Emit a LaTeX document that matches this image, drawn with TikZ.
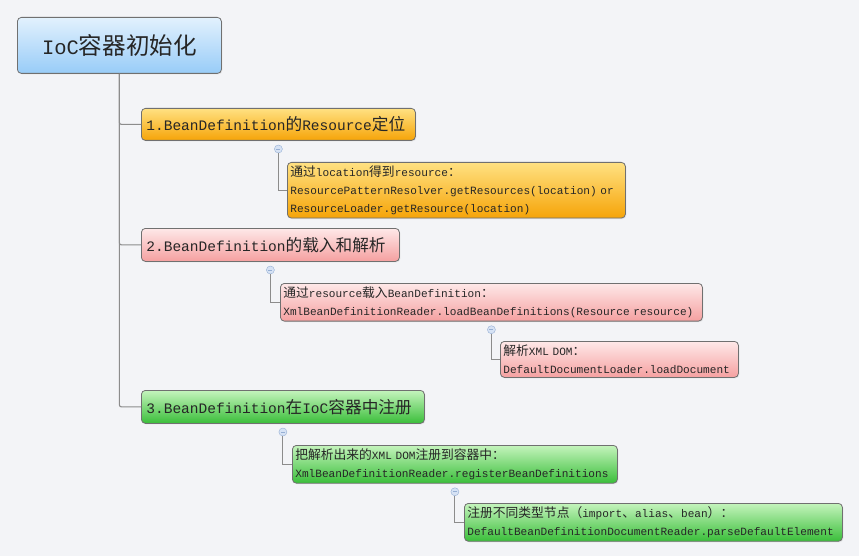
\documentclass[tikz,border=0pt]{standalone}
\usepackage{fontspec}
\setmainfont{Liberation Mono}
\newfontfamily\cjk[Scale=1.15]{Noto Sans CJK SC}
\usepackage{tikz}
\usetikzlibrary{positioning,shadows}
\definecolor{bgcol}{RGB}{243,244,247}
\definecolor{linecol}{RGB}{140,140,140}
\definecolor{edgecol}{RGB}{112,112,112}
\definecolor{bluetop}{RGB}{226,241,253}
\definecolor{bluebot}{RGB}{152,204,248}
\definecolor{orangetop}{RGB}{255,225,130}
\definecolor{orangebot}{RGB}{246,164,8}
\definecolor{pinktop}{RGB}{254,232,232}
\definecolor{pinkbot}{RGB}{245,160,160}
\definecolor{greentop}{RGB}{196,244,188}
\definecolor{greenbot}{RGB}{58,190,58}
\definecolor{togglefill}{RGB}{214,226,244}
\definecolor{toggleedge}{RGB}{150,175,212}

\begin{document}
\begin{tikzpicture}[x=1pt,y=-1pt]
    \tikzstyle{box}=[draw=edgecol,line width=0.8pt,rounded corners=4pt,anchor=north west,
        drop shadow={opacity=0.15,shadow xshift=1pt,shadow yshift=-1pt},text=black!85]
    \tikzstyle{topic}=[box,inner xsep=5pt,align=left,font=\fontsize{14.5}{18}\selectfont]
    \tikzstyle{note}=[box,inner xsep=3pt,align=left,font=\fontsize{11.1}{18}\selectfont]
    \tikzstyle{orange box}=[top color=orangetop,bottom color=orangebot]
    \tikzstyle{pink box}=[top color=pinktop,bottom color=pinkbot]
    \tikzstyle{green box}=[top color=greentop,bottom color=greenbot]
    \tikzstyle{toggle}=[circle,draw=toggleedge,fill=togglefill,minimum size=8pt,inner sep=0pt,
        path picture={\draw[toggleedge,line width=0.6pt]([xshift=2pt]path picture bounding box.west)
        -- ([xshift=-2pt]path picture bounding box.east);}]
    \tikzstyle{branch}=[draw=linecol,line width=1.1pt]

    \fill[bgcol] (0,0) rectangle (859,556);
    \useasboundingbox (0,0) rectangle (859,556);

    \node(root)[box,top color=bluetop,bottom color=bluebot,align=center,
        minimum width=204pt,minimum height=56pt,font=\fontsize{20.5}{24}\selectfont]
        at (17,17) {IoC{\cjk 容器初始化}};

    \node(b1)[topic,orange box,text width=264pt,minimum height=32pt] at (141,108)
        {1.BeanDefinition{\cjk 的}Resource{\cjk 定位}};
    \node(b1a)[note,orange box,text width=332pt,minimum height=53pt] at (287,162)
        {{\cjk 通过}location{\cjk 得到}resource{\cjk ：}\\
         ResourcePatternResolver.getResources(location) or\\
         ResourceLoader.getResource(location)};

    \node(b2)[topic,pink box,text width=248pt,minimum height=33pt] at (141,228)
        {2.BeanDefinition{\cjk 的载入和解析}};
    \node(b2a)[note,pink box,text width=416pt,minimum height=36pt] at (280,283)
        {{\cjk 通过}resource{\cjk 载入}BeanDefinition{\cjk ：}\\
         XmlBeanDefinitionReader.loadBeanDefinitions(Resource resource)};
    \node(b2b)[note,pink box,text width=232pt,minimum height=36pt] at (500,341)
        {{\cjk 解析}XML DOM{\cjk ：}\\
         DefaultDocumentLoader.loadDocument};

    \node(b3)[topic,green box,text width=273pt,minimum height=33pt] at (141,390)
        {3.BeanDefinition{\cjk 在}IoC{\cjk 容器中注册}};
    \node(b3a)[note,green box,text width=319pt,minimum height=36pt] at (292,445)
        {{\cjk 把解析出来的}XML DOM{\cjk 注册到容器中：}\\
         XmlBeanDefinitionReader.registerBeanDefinitions};
    \node(b3b)[note,green box,text width=372pt,minimum height=36pt] at (464,503)
        {{\cjk 注册不同类型节点（}import{\cjk 、}alias{\cjk 、}bean{\cjk ）：}\\
         DefaultBeanDefinitionDocumentReader.parseDefaultElement};

    \node(t1)[toggle,below=4pt of b1]{};
    \node(t2)[toggle,below=4pt of b2]{};
    \node(t2a)[toggle,below=4pt of b2a]{};
    \node(t3)[toggle,below=4pt of b3]{};
    \node(t3a)[toggle,below=4pt of b3a]{};

    \path[branch,rounded corners=2pt] (root.south) |- (b1.west);
    \path[branch,rounded corners=2pt] (root.south) |- (b2.west);
    \path[branch,rounded corners=2pt] (root.south) |- (b3.west);
    \path[branch] (t1.south) |- (b1a.west);
    \path[branch] (t2.south) |- (b2a.west);
    \path[branch] (t2a.south) |- (b2b.west);
    \path[branch] (t3.south) |- (b3a.west);
    \path[branch] (t3a.south) |- (b3b.west);
\end{tikzpicture}
\end{document}
